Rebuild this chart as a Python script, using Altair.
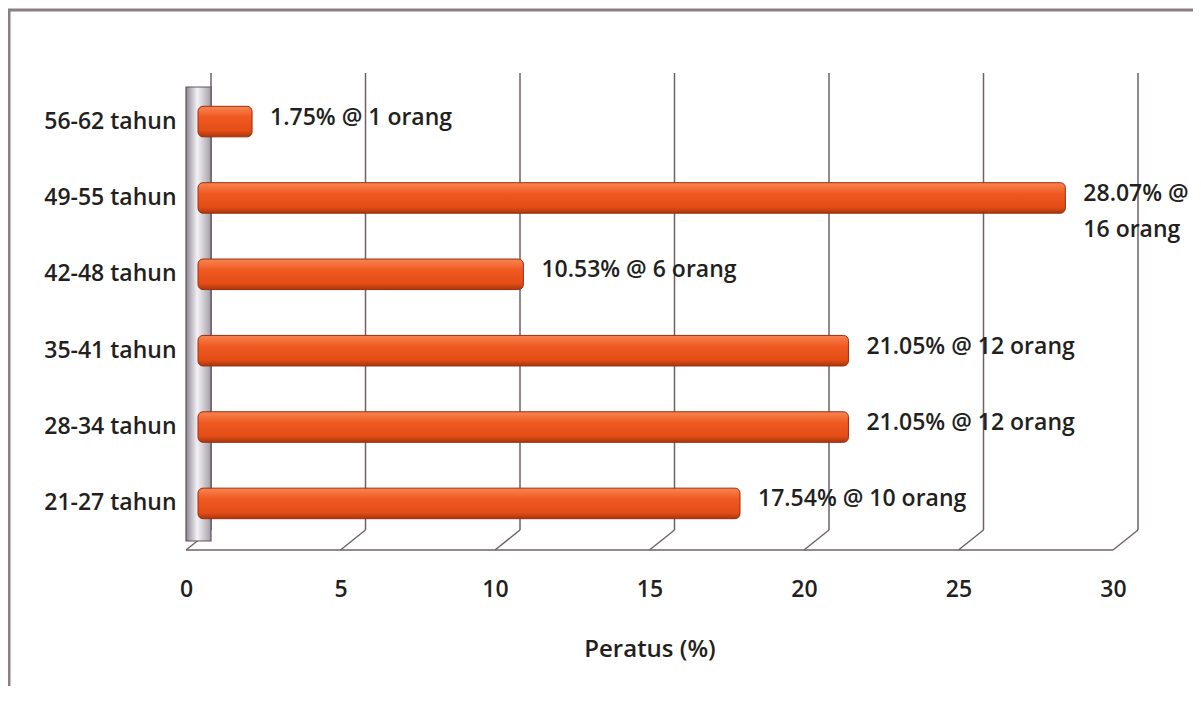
import altair as alt
import pandas as pd

# ---- data ----
categories = ["56-62 tahun", "49-55 tahun", "42-48 tahun", "35-41 tahun", "28-34 tahun", "21-27 tahun"]
percent = [1.75, 28.07, 10.53, 21.05, 21.05, 17.54]
people = [1, 16, 6, 12, 12, 10]
labels = ["1.75% @ 1 orang", "28.07% @\n16 orang", "10.53% @ 6 orang",
          "21.05% @ 12 orang", "21.05% @ 12 orang", "17.54% @ 10 orang"]
ticks = [0, 5, 10, 15, 20, 25, 30]
x_title = "Peratus (%)"

FONT = "Open Sans"
TXT = "#231F20"
GRID = "#6E6266"

df = pd.DataFrame({"kategori": categories, "peratus": percent, "orang": people, "label": labels})
tick_df = pd.DataFrame({"v": ticks})

xs = alt.Scale(domain=[0, 30], nice=False, zero=True)
ys = alt.Scale(domain=categories, paddingInner=0.6, paddingOuter=0.41)
xaxis = alt.Axis(values=ticks, title=x_title, grid=False, domain=False, ticks=False,
                 labelFlush=False,
                 labelFont=FONT, labelFontSize=23, labelFontWeight=600, labelColor=TXT,
                 labelPadding=28, titleFont=FONT, titleFontSize=24, titleFontWeight=600,
                 titleColor=TXT, titlePadding=36)

# back-wall gridlines (shifted for the 3-D look) carrying the x axis
grid = alt.Chart(tick_df).mark_rule(color=GRID, strokeWidth=1.5, xOffset=25).encode(
    x=alt.X("v:Q", scale=xs, axis=xaxis),
    y=alt.value(-2), y2=alt.value(455),
)

# floor diagonals from back wall to front edge
diag = alt.Chart(tick_df).mark_rule(color=GRID, strokeWidth=1.5, xOffset=25, x2Offset=0).encode(
    x=alt.X("v:Q", scale=xs, axis=xaxis), x2="v:Q",
    y=alt.value(455), y2=alt.value(475),
)

floor = alt.Chart(tick_df.head(1)).mark_rule(color=GRID, strokeWidth=1.5).encode(
    x=alt.X("v:Q", scale=xs, axis=xaxis), x2=alt.datum(30),
    y=alt.value(475),
)

# left wall
wall = alt.Chart(tick_df.head(1)).mark_rect(
    x2Offset=25, stroke="#5E5459", strokeWidth=1.2,
    fill=alt.LinearGradient(gradient="linear", x1=0, x2=1, y1=0, y2=0,
                            stops=[alt.GradientStop(offset=0, color="#8C8692"),
                                   alt.GradientStop(offset=0.45, color="#F4F2F6"),
                                   alt.GradientStop(offset=1, color="#A29EA8")]),
).encode(x=alt.X("v:Q", scale=xs, axis=xaxis), x2="v:Q", y=alt.value(12), y2=alt.value(466))

bars = alt.Chart(df).mark_bar(
    xOffset=12, x2Offset=12, cornerRadiusEnd=5, stroke="#9A2E0C", strokeWidth=1,
    fill=alt.LinearGradient(gradient="linear", x1=0, x2=0, y1=0, y2=1,
                            stops=[alt.GradientStop(offset=0, color="#F88552"),
                                   alt.GradientStop(offset=0.35, color="#F05A22"),
                                   alt.GradientStop(offset=0.8, color="#E44E16"),
                                   alt.GradientStop(offset=1, color="#A8360E")]),
).encode(
    x=alt.X("peratus:Q", scale=xs, axis=xaxis), x2=alt.datum(0),
    y=alt.Y("kategori:N", scale=ys, sort=categories,
            axis=alt.Axis(title=None, domain=False, ticks=False, labelFont=FONT, labelFontSize=23,
                          labelFontWeight=600, labelColor=TXT, labelPadding=10)),
)

text = alt.Chart(df).mark_text(
    align="left", baseline="middle", dx=30, dy=-4, font=FONT, fontSize=23, fontWeight=600,
    color=TXT, lineBreak="\n", lineHeight=36,
).encode(
    x=alt.X("peratus:Q", scale=xs, axis=xaxis),
    y=alt.Y("kategori:N", scale=ys, sort=categories),
    text="label:N",
)

# outer frame (top and left edge of the picture)
frame_top = alt.Chart(tick_df.head(1)).mark_rule(color="#8E7E84", strokeWidth=3).encode(
    x=alt.value(-178), x2=alt.value(1015), y=alt.value(-65))
frame_left = alt.Chart(tick_df.head(1)).mark_rule(color="#8E7E84", strokeWidth=3).encode(
    x=alt.value(-177), y=alt.value(-65), y2=alt.value(640))

chart = alt.layer(grid, diag, floor, wall, bars, text, frame_top, frame_left).properties(
    width=927, height=475,
    padding={"left": 178, "top": 67, "right": 80, "bottom": 136},
    autosize=alt.AutoSizeParams(type="none"),
    background="white",
).configure_view(stroke=None)

chart.save("out.html", embed_options={"renderer": "svg", "actions": False})
